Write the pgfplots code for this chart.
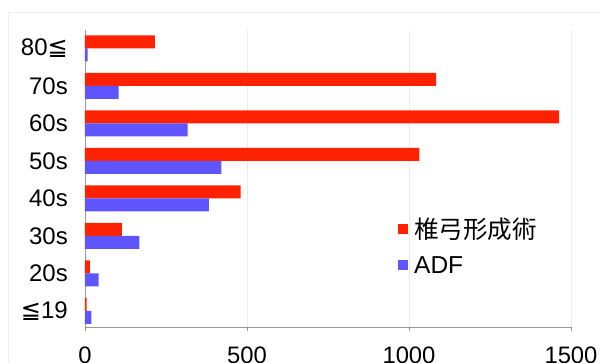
\documentclass[border=0pt]{standalone}
\usepackage{pgfplots}
\pgfplotsset{compat=1.18}
\usepackage{fontspec}
\setmainfont{Liberation Sans}
\newfontfamily\cjk{Noto Sans CJK JP}
\newfontfamily\sym{DejaVu Sans}
\definecolor{barred}{RGB}{255,34,0}
\definecolor{barblue}{RGB}{94,85,255}
\begin{document}
\begin{tikzpicture}
\begin{axis}[
  at={(0,0)}, anchor=south west,
  scale only axis, width=486pt, height=297pt,
  xmin=0, xmax=1500, ymin=-0.43, ymax=7.49,
  xbar, bar width=13pt,
  axis x line*=bottom, axis y line*=left,
  axis line style={gray!80, line width=0.8pt},
  xtick={0,500,1000,1500}, xticklabels={0,500,1000,1500},
  ytick={0,1,2,3,4,5,6,7},
  yticklabels={{\sym ≦}19,20s,30s,40s,50s,60s,70s,80{\sym ≦}},
  xmajorgrids, grid style={gray!15, line width=0.8pt},
  tick align=outside, major tick length=4pt,
  xtick style={gray!80, line width=0.8pt},
  ytick style={draw=none},
  xticklabel style={font=\fontsize{23.8}{28}\selectfont, inner sep=0pt, anchor=north, yshift=-16pt},
  yticklabel style={font=\fontsize{24}{28}\selectfont, inner sep=0pt, anchor=east, xshift=-13pt},
  legend style={at={(0.644,0.374)}, anchor=north west, draw=none, fill=none,
    font=\fontsize{24.5}{28}\selectfont, inner sep=0pt, row sep=12pt,
    legend cell align=left},
  /tikz/every odd column/.append style={column sep=4pt},
  legend image code/.code={\fill[#1, draw=none] (0pt,-5pt) rectangle (10pt,5pt);},
]
\addplot[fill=barred, draw=none, bar shift=6.5pt] coordinates {(5,0) (15,1) (114,2) (480,3) (1032,4) (1463,5) (1084,6) (216,7)};
\addplot[fill=barblue, draw=none, bar shift=-6.5pt] coordinates {(20,0) (42,1) (168,2) (382,3) (421,4) (317,5) (104,6) (8,7)};
\legend{{\cjk 椎弓形成術},ADF}
\end{axis}
\draw[gray!12, line width=1pt] (-76pt,-40pt) -- (-76pt,314pt) -- (520pt,314pt);
\pgfresetboundingbox
\path[use as bounding box] (-85pt,-35pt) rectangle (515pt,327pt);
\end{tikzpicture}
\end{document}
